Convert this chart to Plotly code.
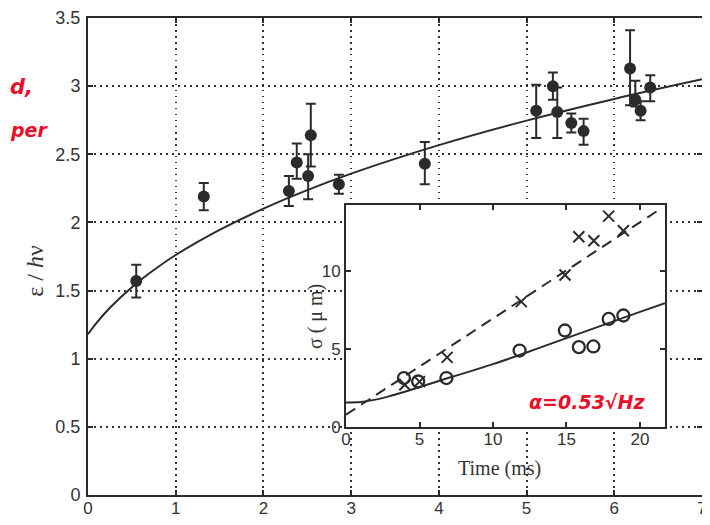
import plotly.graph_objects as go

# ---- main panel data (epsilon / h nu vs x) ----
main_x = [0.55, 1.32, 2.29, 2.38, 2.51, 2.54, 2.86, 3.84, 5.11, 5.30, 5.35, 5.51, 5.65, 6.18, 6.24, 6.30, 6.41]
main_y = [1.57, 2.19, 2.23, 2.44, 2.34, 2.64, 2.28, 2.43, 2.82, 3.00, 2.81, 2.73, 2.67, 3.13, 2.90, 2.82, 2.99]
main_err_plus = [0.12, 0.10, 0.11, 0.14, 0.16, 0.23, 0.07, 0.16, 0.19, 0.10, 0.18, 0.07, 0.09, 0.28, 0.14, 0.07, 0.09]
main_err_minus = [0.12, 0.10, 0.11, 0.12, 0.17, 0.23, 0.07, 0.15, 0.20, 0.10, 0.19, 0.07, 0.10, 0.27, 0.05, 0.07, 0.10]

# fitted curve
fit_x = [0, 0.1, 0.25, 0.5, 0.75, 1, 1.5, 2, 2.5, 3, 4, 5, 6, 7]
fit_y = [1.18, 1.265, 1.374, 1.525, 1.651, 1.761, 1.945, 2.101, 2.237, 2.358, 2.567, 2.747, 2.906, 3.05]

# ---- inset data (sigma vs time) ----
cross_t = [4.0, 5.0, 6.88, 11.92, 14.9, 15.84, 16.86, 17.87, 18.87]
cross_s = [2.7, 2.9, 4.45, 8.02, 9.72, 12.17, 11.91, 13.49, 12.55]
circ_t = [3.94, 4.91, 6.83, 11.81, 14.89, 15.84, 16.83, 17.87, 18.87]
circ_s = [3.13, 2.91, 3.13, 4.89, 6.17, 5.11, 5.15, 6.91, 7.13]
dash_t = [0, 21.2]
dash_s = [0.79, 13.83]
solid_t = [0, 1, 2, 3, 4, 5, 6, 7, 8, 10, 12, 14, 16, 18, 20, 21.7]
solid_s = [1.57, 1.60, 1.75, 1.98, 2.25, 2.55, 2.85, 3.15, 3.43, 4.02, 4.67, 5.35, 6.02, 6.69, 7.36, 7.91]

main_xticks = [0, 1, 2, 3, 4, 5, 6, 7]
main_yticks = [0, 0.5, 1, 1.5, 2, 2.5, 3, 3.5]
main_ytext = ["0", "0.5", "1", "1.5", "2", "2.5", "3", "3.5"]
inset_xticks = [0, 5, 10, 15, 20]
inset_yticks = [0, 5, 10]

ink = "#2b2b2b"

fig = go.Figure()

fig.add_trace(go.Scatter(x=fit_x, y=fit_y, mode="lines", line=dict(color=ink, width=2, shape="spline"),
                         xaxis="x", yaxis="y", showlegend=False))
fig.add_trace(go.Scatter(x=main_x, y=main_y, mode="markers",
                         marker=dict(color=ink, size=12),
                         error_y=dict(type="data", symmetric=False, array=main_err_plus,
                                      arrayminus=main_err_minus, color=ink, thickness=2, width=5),
                         xaxis="x", yaxis="y", showlegend=False))

fig.add_trace(go.Scatter(x=dash_t, y=dash_s, mode="lines", line=dict(color=ink, width=2, dash="11px,7px"),
                         xaxis="x2", yaxis="y2", showlegend=False))
fig.add_trace(go.Scatter(x=solid_t, y=solid_s, mode="lines", line=dict(color=ink, width=2, shape="spline"),
                         xaxis="x2", yaxis="y2", showlegend=False))
fig.add_trace(go.Scatter(x=cross_t, y=cross_s, mode="markers",
                         marker=dict(symbol="x-thin-open", size=11, line=dict(color=ink, width=2), color=ink),
                         xaxis="x2", yaxis="y2", showlegend=False))
fig.add_trace(go.Scatter(x=circ_t, y=circ_s, mode="markers",
                         marker=dict(symbol="circle-open", size=12, line=dict(color=ink, width=2.3), color=ink),
                         xaxis="x2", yaxis="y2", showlegend=False))

axis_common = dict(showline=True, linecolor=ink, linewidth=2, mirror="ticks", ticks="inside",
                   ticklen=5, tickwidth=1.5, tickcolor=ink, zeroline=False, ticklabeloverflow="allow",
                   automargin=False)

# the page body adds an 8px margin, so the figure is kept smaller than the window
fig.update_layout(
    width=702, height=509,
    margin=dict(l=80, r=8, t=10, b=22),
    paper_bgcolor="white", plot_bgcolor="white",
    font=dict(family="Liberation Sans, Arial, sans-serif", color="#333", size=17),
    xaxis=dict(range=[0, 7], tickvals=main_xticks, domain=[0, 1], showgrid=True, gridcolor="#333",
               griddash="1.5px,4.5px", gridwidth=1.5, tickfont=dict(size=17), ticklabelstandoff=-3,
               **axis_common),
    yaxis=dict(range=[0, 3.5], tickvals=main_yticks, ticktext=main_ytext, domain=[0, 1], showgrid=True,
               gridcolor="#333", griddash="1.5px,4.5px", gridwidth=1.5, tickfont=dict(size=18),
               ticklabelstandoff=2, **axis_common),
    xaxis2=dict(range=[0, 21.7], tickvals=inset_xticks, domain=[0.4202, 0.9397], anchor="y2",
                showgrid=False, tickfont=dict(size=17), ticklabelstandoff=-4, **axis_common),
    yaxis2=dict(range=[0, 14.2], tickvals=inset_yticks, domain=[0.1426, 0.608], anchor="x2",
                showgrid=False, tickfont=dict(size=17), ticklabelstandoff=0, **axis_common),
)

annots = [
    dict(text="ε / <i>h</i>ν", x=-0.0863, y=0.47, textangle=-90,
         font=dict(family="Liberation Serif, Times New Roman, serif", size=24, color="#333")),
    dict(text="σ ( μ m)", x=0.3697, y=0.375, textangle=-90,
         font=dict(family="Liberation Serif, Times New Roman, serif", size=20, color="#333")),
    dict(text="Time (ms)", x=0.671, y=0.056,
         font=dict(family="Liberation Serif, Times New Roman, serif", size=20, color="#333")),
    dict(text="<b><i>α=0.53√Hz</i></b>", x=0.8127, y=0.196,
         font=dict(family="DejaVu Sans, sans-serif", size=19, color="#e8102a")),
    dict(text="<b><i>d,</i></b>", x=-0.1303, y=0.855, xanchor="left",
         font=dict(family="DejaVu Sans, sans-serif", size=21, color="#e8102a")),
    dict(text="<b><i>per</i></b>", x=-0.1303, y=0.765, xanchor="left",
         font=dict(family="DejaVu Sans, sans-serif", size=19, color="#e8102a")),
]
for a in annots:
    a.setdefault("xanchor", "center")
    fig.add_annotation(xref="paper", yref="paper", showarrow=False, yanchor="middle", **a)

fig.write_html("out.html")
